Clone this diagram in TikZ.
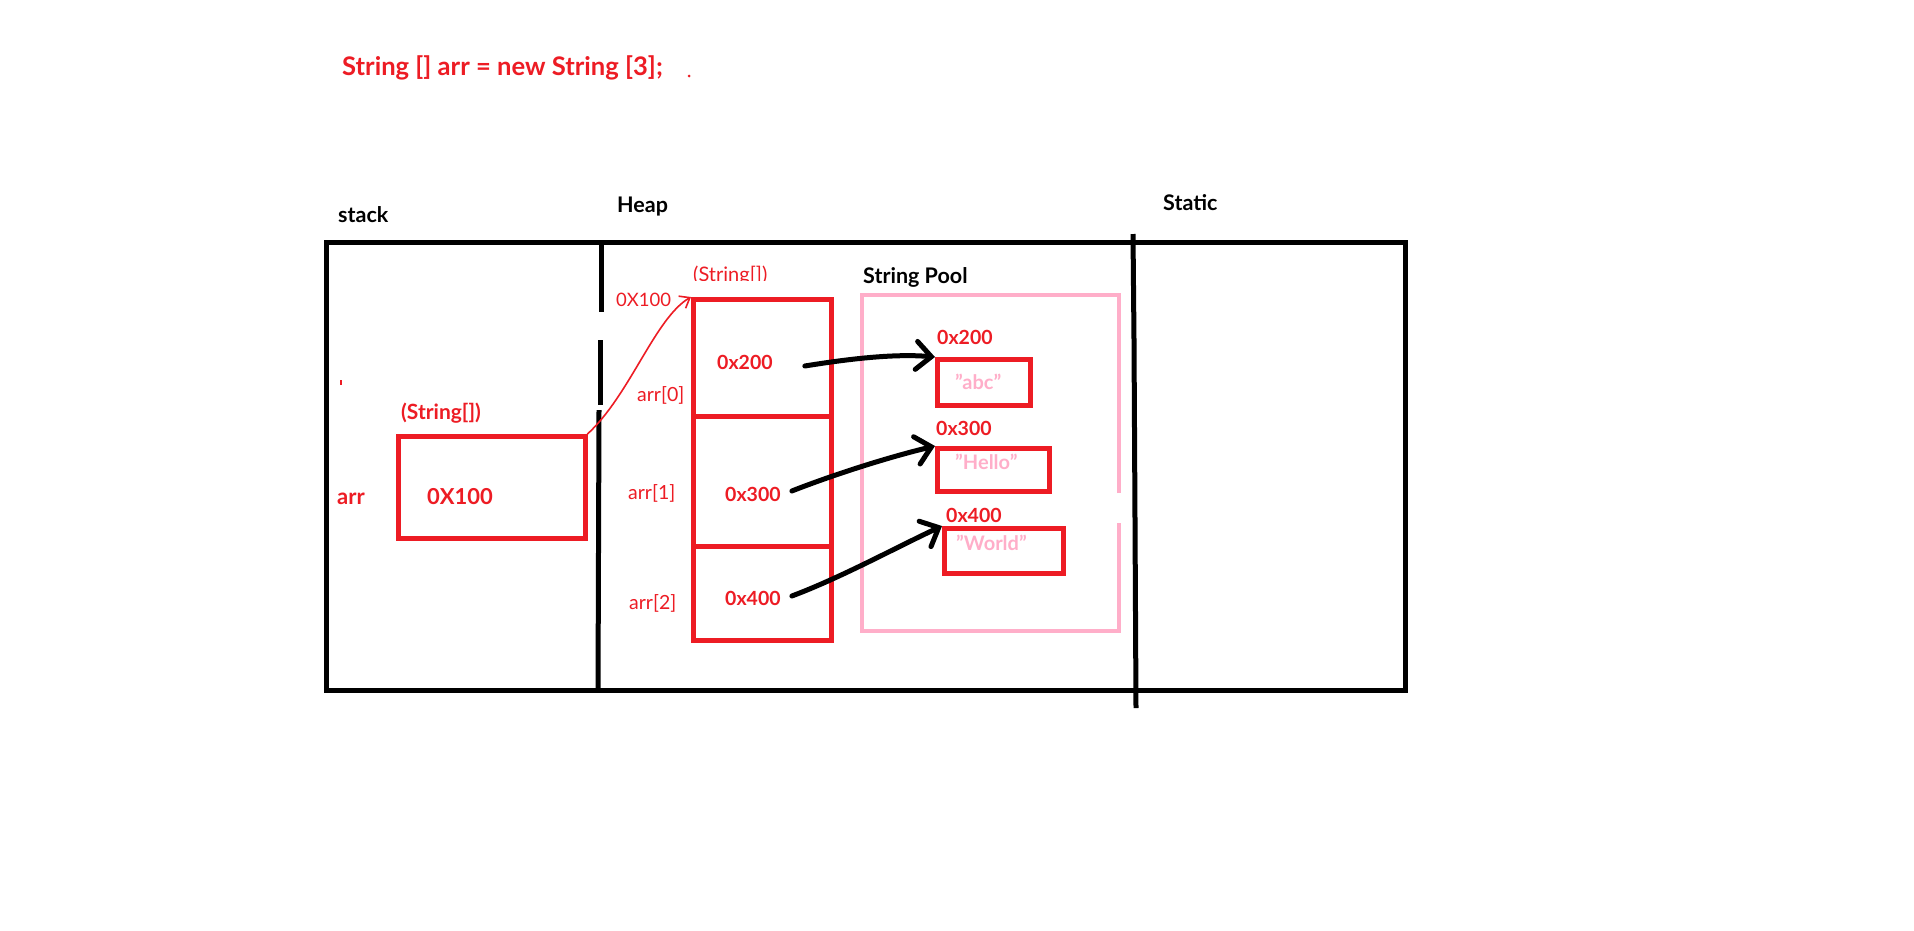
\documentclass[tikz,border=0pt]{standalone}
\usepackage{fontspec}
\setmainfont{Lato}
\usetikzlibrary{arrows.meta}
\definecolor{pred}{RGB}{237,28,36}
\definecolor{ppink}{RGB}{255,174,201}
\newcommand{\setfs}[1]{\fontsize{#1}{#1}\selectfont}
\begin{document}
\begin{tikzpicture}[x=1pt,y=-1pt,
  lbl/.style={inner sep=0pt, anchor=west},
  redtxt/.style={lbl, text=pred, font=\setfs{19.5}},
  redbold/.style={lbl, text=pred, font=\setfs{19.5}\bfseries},
  blktxt/.style={lbl, text=black, font=\setfs{21.5}\bfseries},
  pinktxt/.style={lbl, text=ppink, font=\setfs{20}\bfseries},
  redbox/.style={draw=pred, line width=4.5pt, inner sep=0pt, anchor=north west},
  frame/.style={draw=black, line width=5pt},
  blkarrow/.style={draw=black, line width=5pt, line cap=round, line join=round,
    -{Straight Barb[length=15pt, width=28pt, line width=5pt, line cap=round]}},
  redarrow/.style={draw=pred, line width=1.6pt, line cap=round,
    -{Straight Barb[length=9pt, width=14pt, line width=1.6pt]}}
]
\useasboundingbox (0,0) rectangle (1914,930);
\fill[white] (0,0) rectangle (1914,930);

% title
\node[lbl, text=pred, font=\setfs{25.6}\bfseries] (title) at (342,68) {String [] arr = new String [3];};
\fill[pred] (689,76) circle (1.5pt);

% region labels
\node[blktxt] (stacklbl) at (338,215) {stack};
\node[blktxt] (heaplbl) at (617,207) {Heap};
\node[blktxt] (staticlbl) at (1163,203) {Static};

% outer frame and dividers
\draw[frame] (326,242) rectangle (1405,690);
\draw[frame] (601,244) -- (601,312);
\draw[frame] (600,340) -- (600,405);
\draw[frame] (599,410) -- (598,692);
\draw[frame] (1133,234) -- (1134,340) -- (1135,520) -- (1136,708);

% stack
\draw[pred, line width=1.5pt] (341,380) -- (341,385);
\node[redbold, font=\setfs{21}\bfseries] (sttype) at (401,413) {(String[])};
\node[redbox, minimum width=187pt, minimum height=102pt] (stbox) at (396,434) {};
\node[redbold, font=\setfs{22}\bfseries] (stval) at (427,497) {0X100};
\node[redbold, font=\setfs{22}\bfseries] (arrlbl) at (337,499) {arr};

% heap array
\begin{scope}
\clip (600,250) rectangle (900,280.5);
\node[redtxt, font=\setfs{20}] (hptype) at (693,276) {(String[])};
\end{scope}
\node[redtxt, font=\setfs{18.5}] (hpaddr) at (616,300) {0X100};
\node[redbox, minimum width=138pt, minimum height=117pt] (c0) at (691,297) {};
\node[redbox, minimum width=138pt, minimum height=130pt] (c1) at (691,414) {};
\node[redbox, minimum width=138pt, minimum height=94pt] (c2) at (691,544) {};
\node[redbold] (v0) at (717,362) {0x200};
\node[redbold] (v1) at (725,494) {0x300};
\node[redbold] (v2) at (725,598) {0x400};
\node[redtxt] (i0) at (637,395) {arr[0]};
\node[redtxt] (i1) at (628,493) {arr[1]};
\node[redtxt] (i2) at (629,603) {arr[2]};

% string pool
\begin{scope}
\clip (850,250) rectangle (1000,286);
\node[blktxt] (pool) at (863,277) {String Pool};
\end{scope}
\draw[ppink, line width=4.5pt] (1119,493) -- (1119,295) -- (862,295) -- (862,631) -- (1119,631) -- (1119,523);

\node[redbold] (a0) at (937,337) {0x200};
\node[redbold] (a1) at (936,428) {0x300};
\node[redbold] (a2) at (946,515) {0x400};
\node[redbox, minimum width=93pt, minimum height=46pt] (abc) at (935,357) {};
\node[redbox, minimum width=112pt, minimum height=43pt] (hello) at (935,446) {};
\node[redbox, minimum width=119pt, minimum height=45pt] (world) at (942,526) {};
\node[pinktxt] (sabc) at (955,382) {\symbol{34}abc\symbol{34}};
\node[pinktxt] (shello) at (955,462) {\symbol{34}Hello\symbol{34}};
\node[pinktxt] (sworld) at (956,543) {\symbol{34}World\symbol{34}};

% connectors
\draw[redarrow] (stbox.north east) .. controls (630,395) and (655,318) .. (c0.north west);
\draw[blkarrow] ([xshift=32pt,yshift=-4pt]v0.east) .. controls (860,357) and (900,354) .. (abc.north west);
\draw[blkarrow] ([xshift=11pt,yshift=3pt]v1.east) .. controls (830,476) and (885,458) .. (hello.north west);
\draw[blkarrow] ([xshift=11pt,yshift=2pt]v2.east) .. controls (840,578) and (895,548) .. (world.north west);
\end{tikzpicture}
\end{document}
